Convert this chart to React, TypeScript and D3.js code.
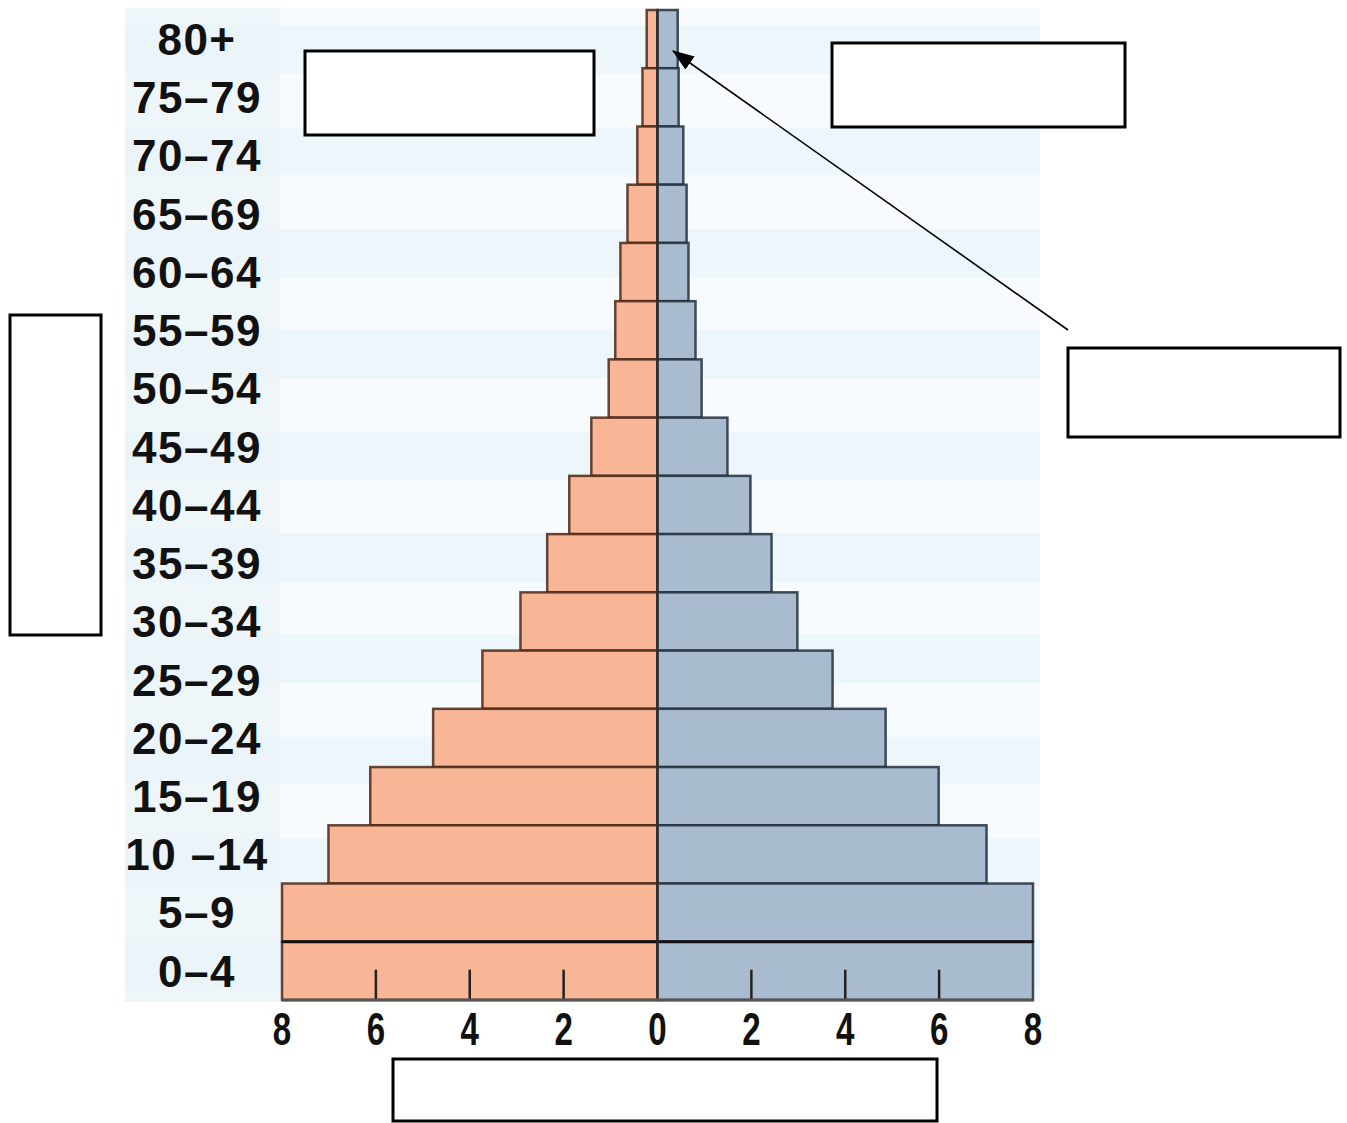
import React from "react";
import * as d3 from "d3";

const ageGroups = ["80+", "75–79", "70–74", "65–69", "60–64", "55–59", "50–54", "45–49", "40–44", "35–39", "30–34", "25–29", "20–24", "15–19", "10 –14", "5–9", "0–4"];
const leftValues = [0.23, 0.32, 0.43, 0.64, 0.79, 0.9, 1.04, 1.41, 1.88, 2.35, 2.92, 3.73, 4.78, 6.12, 7.01, 8, 8];
const rightValues = [0.43, 0.45, 0.55, 0.62, 0.66, 0.81, 0.94, 1.49, 1.98, 2.43, 2.98, 3.73, 4.86, 5.99, 7.01, 8, 8];
const tickValues = [-8, -6, -4, -2, 0, 2, 4, 6, 8];

const W = 1347;
const H = 1123;

export default function App() {
  const x = d3.scaleLinear().domain([-8, 8]).range([282, 1033]);
  const y = d3.scaleBand<string>().domain(ageGroups).range([10, 1000]).padding(0);
  const bw = y.bandwidth();
  const x0 = x(0);
  const stripeCenters = d3.range(10).map((i) => 50 + i * 101.5);
  const lastRow = ageGroups[ageGroups.length - 1];
  const yLast = y(lastRow) as number;

  return (
    <svg width={W} height={H} style={{ position: "absolute", left: 0, top: 0, display: "block", background: "#fff" }}>
      <defs>
        <marker id="arrowHead" viewBox="0 0 10 10" refX="9.5" refY="5" markerWidth="22" markerHeight="16" orient="auto-start-reverse" markerUnits="userSpaceOnUse" preserveAspectRatio="none">
          <path d="M0,0 L10,5 L0,10 z" fill="#000" />
        </marker>
      </defs>
      {/* background */}
      <rect x={125} y={8} width={915} height={994} fill="#f8fbfd" />
      {stripeCenters.map((c, i) => (
        <rect key={i} x={125} y={c - 24} width={915} height={48} fill="#edf6fb" />
      ))}
      <rect x={125} y={8} width={155} height={994} fill="#eaf4f9" opacity={0.6} />

      {/* bars */}
      {ageGroups.map((g, i) => {
        const yy = y(g) as number;
        return (
          <g key={g}>
            <rect x={x(-leftValues[i])} y={yy} width={x0 - x(-leftValues[i])} height={bw} fill="#f8b696" stroke="#4a2818" strokeOpacity={0.85} strokeWidth={2.5} />
            <rect x={x0} y={yy} width={x(rightValues[i]) - x0} height={bw} fill="#a9bccf" stroke="#22303e" strokeOpacity={0.85} strokeWidth={2.5} />
          </g>
        );
      })}
      {/* thick line between 0-4 and 5-9 */}
      <line x1={x(-8)} x2={x(8)} y1={yLast} y2={yLast} stroke="#111" strokeWidth={3} />
      {/* center line */}
      <line x1={x0} x2={x0} y1={10} y2={1000} stroke="#2a2a2a" strokeWidth={2} />
      {/* tick marks inside bottom bar */}
      {tickValues.filter((t) => t !== 0 && Math.abs(t) !== 8).map((t) => (
        <line key={t} x1={x(t)} x2={x(t)} y1={yLast + bw * 0.48} y2={1000} stroke="#222" strokeWidth={2.5} />
      ))}
      <line x1={x(-8)} x2={x(8)} y1={1000} y2={1000} stroke="#555" strokeWidth={3} />

      {/* age labels */}
      {ageGroups.map((g) => (
        <text key={g} x={197} y={(y(g) as number) + bw / 2} dy="0.36em" textAnchor="middle" fontFamily="'Liberation Sans', Arial, sans-serif" fontWeight="bold" fontSize={44} letterSpacing={1.5} fill="#111">
          {g}
        </text>
      ))}

      {/* x tick labels */}
      {tickValues.map((t) => (
        <text key={t} transform={`translate(${x(t)},${1045}) scale(0.72,1)`} textAnchor="middle" fontFamily="'Liberation Sans Narrow', 'Liberation Sans', Arial, sans-serif" fontWeight="bold" fontSize={46} fill="#111">
          {Math.abs(t)}
        </text>
      ))}

      {/* arrow */}
      <line x1={1068} y1={330} x2={673} y2={51} stroke="#000" strokeWidth={1.6} markerEnd="url(#arrowHead)" />

      {/* blank boxes */}
      <rect x={305} y={51} width={289} height={84} fill="#fff" stroke="#000" strokeWidth={3} />
      <rect x={832} y={43} width={293} height={84} fill="#fff" stroke="#000" strokeWidth={3} />
      <rect x={1068} y={348} width={272} height={89} fill="#fff" stroke="#000" strokeWidth={3} />
      <rect x={10} y={315} width={91} height={320} fill="#fff" stroke="#000" strokeWidth={3} />
      <rect x={393} y={1059} width={544} height={62} fill="#fff" stroke="#000" strokeWidth={3} />
    </svg>
  );
}
